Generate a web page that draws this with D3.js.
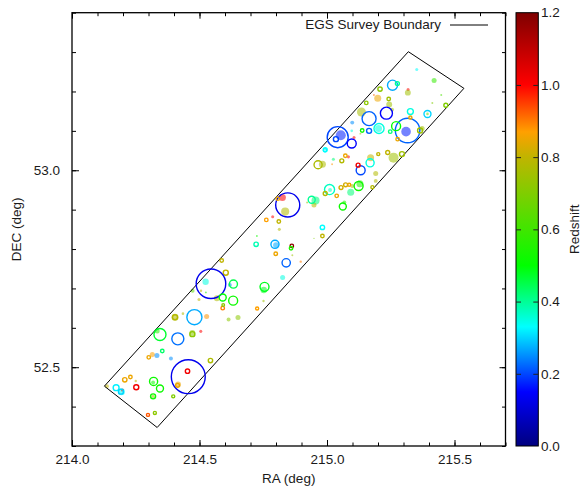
<!DOCTYPE html>
<html>
<head>
<meta charset="utf-8">
<script src="https://cdn.jsdelivr.net/npm/d3@7"></script>
<style>
  body { margin: 0; background: #fff; }
  text { font-family: "Liberation Sans", Arial, sans-serif; fill: #1a1a1a; font-size: 13.5px; }
</style>
</head>
<body>
<svg id="chart" width="582" height="487"></svg>
<script>
// EGS sources: position (deg), redshift, apparent radius (arcsec), marker kind (o = ring, f = disc)
const ra = [
  214.345, 214.334, 214.415, 214.472, 214.472, 214.505, 214.354, 214.301, 214.315, 214.333,
  214.388, 214.456, 214.453, 214.416, 214.414, 214.543, 214.207, 214.229, 214.250, 214.137,
  214.173, 214.194, 214.192, 214.198, 214.252, 214.320, 214.318, 214.345, 214.318, 214.318,
  214.397, 214.298, 214.325, 214.587, 214.603, 214.545, 214.524, 214.633, 214.619, 214.473,
  214.525, 214.506, 214.498, 214.591, 214.568, 214.632, 214.591, 214.593, 214.404, 214.404,
  214.435, 214.480, 214.528, 214.614, 214.651, 214.755, 214.752, 214.826, 214.726, 214.751,
  214.799, 214.840, 214.796, 214.800, 214.722, 214.862, 214.859, 214.864, 214.897, 214.982,
  214.725, 214.846, 214.825, 214.807, 214.836, 214.762, 214.787, 214.811, 214.813, 214.982,
  214.940, 214.955, 214.949, 214.922, 214.965, 214.982, 215.010, 215.012, 214.993, 215.038,
  215.055, 215.073, 215.087, 215.093, 215.124, 215.129, 215.099, 215.062, 215.068, 215.178,
  215.191, 215.191, 215.132, 215.122, 215.169, 215.171, 215.201, 215.261, 215.294, 215.072,
  215.084, 215.058, 215.020, 215.025, 214.992, 215.238, 214.949, 215.042, 215.054, 215.035,
  215.097, 215.316, 215.310, 215.271, 215.365, 215.373, 215.327, 215.277, 215.204, 215.202,
  215.165, 215.138, 215.248, 215.131, 215.165, 215.233, 215.135, 215.154, 215.199, 215.184,
  215.208, 215.257, 215.276, 215.242, 215.244, 215.255, 215.318, 215.317, 215.327, 215.394,
  215.394, 215.420, 215.448, 215.466, 215.413, 215.099, 215.097, 215.106, 214.993, 215.352
];
const dec = [
  52.583, 52.592, 52.572, 52.584, 52.587, 52.591, 52.541, 52.525, 52.532, 52.530,
  52.522, 52.476, 52.490, 52.456, 52.454, 52.517, 52.468, 52.475, 52.465, 52.452,
  52.448, 52.438, 52.438, 52.442, 52.449, 52.464, 52.461, 52.446, 52.426, 52.426,
  52.426, 52.379, 52.384, 52.771, 52.740, 52.712, 52.717, 52.711, 52.709, 52.694,
  52.690, 52.694, 52.672, 52.677, 52.675, 52.669, 52.650, 52.658, 52.627, 52.627,
  52.636, 52.627, 52.629, 52.621, 52.626, 52.704, 52.696, 52.728, 52.649, 52.668,
  52.788, 52.765, 52.812, 52.810, 52.812, 52.808, 52.802, 52.784, 52.768, 52.833,
  52.833, 52.912, 52.931, 52.928, 52.895, 52.874, 52.882, 52.870, 52.850, 52.855,
  52.925, 52.923, 52.912, 52.918, 53.014, 53.015, 52.951, 52.950, 52.941, 52.935,
  52.956, 52.963, 52.963, 52.944, 52.960, 52.966, 52.960, 52.908, 52.918, 52.957,
  52.973, 52.992, 53.000, 53.013, 53.019, 53.032, 53.041, 53.032, 53.041, 53.037,
  53.034, 53.024, 53.015, 53.028, 53.051, 53.045, 52.827, 53.084, 53.089, 53.079,
  53.068, 53.101, 53.098, 53.112, 53.101, 53.106, 53.134, 53.079, 53.106, 53.106,
  53.100, 53.101, 53.098, 53.093, 53.131, 53.145, 53.148, 53.171, 53.183, 53.191,
  53.206, 53.216, 53.220, 53.181, 53.167, 53.154, 53.205, 53.197, 53.149, 53.143,
  53.143, 53.228, 53.191, 53.165, 53.171, 53.121, 53.100, 53.083, 53.052, 53.256
];
const redshift = [
  0.47, 0.55, 0.23, 0.72, 0.72, 1.00, 0.43, 0.85, 0.87, 0.25,
  0.25, 0.13, 1.02, 0.85, 0.85, 0.77, 0.85, 0.85, 0.80, 0.80,
  0.32, 0.33, 0.30, 1.00, 1.02, 0.52, 0.52, 0.52, 0.52, 0.75,
  0.70, 0.93, 0.72, 0.80, 0.80, 0.13, 0.35, 0.45, 0.25, 0.65,
  0.55, 0.80, 0.80, 0.50, 0.78, 0.52, 0.90, 0.72, 0.78, 0.78,
  0.78, 0.27, 0.88, 0.72, 0.72, 0.48, 0.48, 0.35, 0.87, 0.75,
  0.85, 0.22, 0.27, 0.27, 0.38, 1.18, 0.55, 0.75, 0.90, 0.80,
  0.52, 0.13, 1.00, 0.85, 0.78, 0.87, 1.00, 0.80, 0.78, 0.33,
  0.40, 0.42, 0.78, 0.75, 0.77, 0.77, 0.37, 0.37, 0.78, 0.85,
  0.82, 0.82, 0.85, 0.42, 0.52, 0.55, 0.75, 0.52, 0.55, 0.78,
  0.78, 0.78, 0.20, 1.02, 0.35, 0.80, 0.80, 0.75, 0.75, 0.85,
  1.00, 0.78, 0.88, 0.42, 0.32, 0.80, 0.70, 0.20, 0.17, 0.20,
  0.15, 0.22, 0.17, 0.50, 0.75, 0.75, 0.85, 0.85, 0.35, 0.35,
  0.22, 0.52, 0.42, 0.78, 0.22, 0.15, 0.76, 0.72, 0.85, 0.92,
  0.72, 0.27, 0.40, 0.75, 0.75, 0.75, 1.00, 0.75, 0.35, 0.30,
  0.65, 0.58, 0.62, 0.70, 0.70, 0.25, 0.35, 1.00, 0.33, 0.33
];
const radiusArcsec = [
  55, 23, 55, 23, 27, 14, 16, 16, 23, 23,
  18, 155, 20, 27, 18, 20, 20, 16, 11, 18,
  27, 32, 23, 14, 23, 37, 18, 32, 23, 14,
  14, 14, 14, 16, 23, 135, 29, 37, 18, 18,
  9, 11, 14, 32, 27, 41, 16, 12, 32, 23,
  12, 69, 23, 18, 23, 41, 29, 23, 14, 11,
  16, 38, 37, 27, 20, 16, 16, 9, 11, 16,
  9, 110, 32, 16, 37, 16, 14, 16, 14, 20,
  32, 37, 23, 9, 37, 32, 46, 18, 18, 16,
  18, 18, 14, 32, 41, 32, 18, 32, 18, 14,
  18, 23, 41, 18, 37, 32, 14, 46, 23, 16,
  14, 18, 9, 14, 14, 18, 6, 96, 46, 23,
  41, 112, 44, 41, 23, 23, 14, 16, 46, 32,
  23, 16, 16, 9, 64, 55, 41, 16, 32, 9,
  20, 46, 18, 16, 27, 18, 14, 27, 27, 32,
  12, 23, 9, 18, 9, 18, 12, 14, 18, 14
];
const kind = [
  "o","f","o","o","f","f","o","o","f","f",
  "f","o","o","f","o","o","o","o","f","f",
  "o","f","o","f","o","o","f","o","o","f",
  "o","o","o","o","o","o","f","o","f","f",
  "f","f","f","o","f","o","o","o","f","o",
  "f","o","f","f","f","o","f","f","o","f",
  "o","o","o","f","o","o","o","f","f","o",
  "f","o","f","o","f","o","f","o","f","o",
  "o","f","f","f","o","f","o","f","o","o",
  "o","o","o","f","o","f","f","o","f","o",
  "f","f","o","o","o","f","o","f","o","o",
  "f","o","f","f","o","o","f","o","f","o",
  "o","o","f","o","o","f","o","o","o","f",
  "o","o","o","f","o","o","f","o","f","f",
  "o","o","o","o","f","f","f","f","o","o",
  "f","f","f","o","f","f","f","f","o","f"
];

// EGS survey footprint corners (RA, Dec)
const boundaryRA  = [215.319, 215.537, 214.334, 214.127];
const boundaryDec = [53.301, 53.208, 52.347, 52.452];

// Axis ticks
const xMajorTicks = [214.0, 214.5, 215.0, 215.5];
const yMajorTicks = [52.5, 53.0];
const zTicks = [0.0, 0.2, 0.4, 0.6, 0.8, 1.0, 1.2];

// Redshift palette
const zStops  = [0.0, 0.15, 0.33, 0.5, 0.8, 0.87, 1.0, 1.2];
const zColors = ["#00007f", "#0000ff", "#00ffff", "#00ff00", "#c0b400", "#ffa000", "#ff0000", "#7f0000"];

const svg = d3.select("#chart");
const P = { left: 72, right: 505.5, top: 12.7, bottom: 446 };

const x = d3.scaleLinear().domain([214.0, 215.7]).range([P.left, P.right]);
const y = d3.scaleLinear().domain([52.3, 53.4]).range([P.bottom, P.top]);
const color = d3.scaleLinear().domain(zStops).range(zColors).clamp(true);
// one degree on the sky in pixels (declination axis)
const rScale = d3.scaleLinear().domain([0, 3600]).range([0, y(52.3) - y(53.3)]);

const sources = ra.map((r, i) => ({
  ra: r, dec: dec[i], z: redshift[i], rad: radiusArcsec[i], kind: kind[i]
}));

// clip to plot area
svg.append("clipPath").attr("id", "plotClip")
  .append("rect").attr("x", P.left).attr("y", P.top)
  .attr("width", P.right - P.left).attr("height", P.bottom - P.top);

const plot = svg.append("g").attr("clip-path", "url(#plotClip)");

// filled discs first, rings on top
plot.append("g").selectAll("circle")
  .data(sources.filter(d => d.kind === "f"))
  .join("circle")
  .attr("cx", d => x(d.ra)).attr("cy", d => y(d.dec))
  .attr("r", d => rScale(d.rad))
  .attr("fill", d => color(d.z))
  .attr("fill-opacity", 0.55);

// survey footprint
const corners = boundaryRA.map((r, i) => [x(r), y(boundaryDec[i])]);
plot.append("path")
  .attr("d", d3.line()(corners) + "Z")
  .attr("fill", "none").attr("stroke", "#000").attr("stroke-width", 1);

plot.append("g").selectAll("circle")
  .data(sources.filter(d => d.kind === "o"))
  .join("circle")
  .attr("cx", d => x(d.ra)).attr("cy", d => y(d.dec))
  .attr("r", d => rScale(d.rad))
  .attr("fill", "none")
  .attr("stroke", d => color(d.z))
  .attr("stroke-width", 1.4);

// axes with inward ticks on all four sides
function styleAxis(g) {
  g.select(".domain").remove();
  g.selectAll(".tick line").attr("stroke", "#000").attr("stroke-width", 1);
  g.selectAll("text").attr("font-size", null).attr("font-family", null).attr("fill", null);
}
const xMinor = x.ticks(17);
const yMinor = y.ticks(11);

svg.append("g").attr("transform", `translate(0,${P.bottom})`)
  .call(d3.axisBottom(x).tickValues(xMinor).tickSize(-3.5).tickFormat("")).call(styleAxis);
svg.append("g").attr("transform", `translate(0,${P.bottom})`)
  .call(d3.axisBottom(x).tickValues(xMajorTicks).tickSize(-6).tickPadding(8).tickFormat(d3.format(".1f")))
  .call(styleAxis);
svg.append("g").attr("transform", `translate(0,${P.top})`)
  .call(d3.axisTop(x).tickValues(xMinor).tickSize(-3.5).tickFormat("")).call(styleAxis);
svg.append("g").attr("transform", `translate(0,${P.top})`)
  .call(d3.axisTop(x).tickValues(xMajorTicks).tickSize(-6).tickFormat("")).call(styleAxis);

svg.append("g").attr("transform", `translate(${P.left},0)`)
  .call(d3.axisLeft(y).tickValues(yMinor).tickSize(-4).tickFormat("")).call(styleAxis);
svg.append("g").attr("transform", `translate(${P.left},0)`)
  .call(d3.axisLeft(y).tickValues(yMajorTicks).tickSize(-7).tickPadding(12).tickFormat(d3.format(".1f")))
  .call(styleAxis);
svg.append("g").attr("transform", `translate(${P.right},0)`)
  .call(d3.axisRight(y).tickValues(yMinor).tickSize(-3.5).tickFormat("")).call(styleAxis);
svg.append("g").attr("transform", `translate(${P.right},0)`)
  .call(d3.axisRight(y).tickValues(yMajorTicks).tickSize(-6).tickFormat("")).call(styleAxis);

// frame
svg.append("rect")
  .attr("x", P.left).attr("y", P.top)
  .attr("width", P.right - P.left).attr("height", P.bottom - P.top)
  .attr("fill", "none").attr("stroke", "#000").attr("stroke-width", 1.3);

// axis titles
svg.append("text").attr("x", (P.left + P.right) / 2).attr("y", 483)
  .attr("text-anchor", "middle").text("RA (deg)");
svg.append("text").attr("transform", `translate(21,${(P.top + P.bottom) / 2}) rotate(-90)`)
  .attr("text-anchor", "middle").text("DEC (deg)");

// legend
svg.append("text").attr("x", 441).attr("y", 29).attr("text-anchor", "end").text("EGS Survey Boundary");
svg.append("line").attr("x1", 450).attr("x2", 488).attr("y1", 25).attr("y2", 25)
  .attr("stroke", "#000").attr("stroke-width", 1);

// colour bar
const cb = { left: 516, right: 538.3 };
const zScale = d3.scaleLinear().domain([0, 1.2]).range([P.bottom, P.top]);
const grad = svg.append("defs").append("linearGradient")
  .attr("id", "zGrad").attr("x1", 0).attr("y1", 1).attr("x2", 0).attr("y2", 0);
grad.selectAll("stop").data(zStops).join("stop")
  .attr("offset", d => d / 1.2)
  .attr("stop-color", d => color(d));
svg.append("rect")
  .attr("x", cb.left).attr("y", P.top)
  .attr("width", cb.right - cb.left).attr("height", P.bottom - P.top)
  .attr("fill", "url(#zGrad)").attr("stroke", "#000").attr("stroke-width", 1);

const cbInner = zTicks.filter(t => t > 0 && t < 1.2);
svg.append("g").attr("transform", `translate(${cb.left},0)`)
  .call(d3.axisRight(zScale).tickValues(cbInner).tickSize(5).tickFormat(""))
  .call(g => { g.select(".domain").remove(); g.selectAll(".tick line").attr("stroke", "#222"); });
svg.append("g").attr("transform", `translate(${cb.right},0)`)
  .call(d3.axisLeft(zScale).tickValues(cbInner).tickSize(5).tickFormat(""))
  .call(g => { g.select(".domain").remove(); g.selectAll(".tick line").attr("stroke", "#222"); });

svg.append("g").selectAll("text").data(zTicks).join("text")
  .attr("x", 541).attr("y", d => zScale(d)).attr("dy", "0.35em")
  .text(d3.format(".1f"));

svg.append("text").attr("transform", `translate(579,${(P.top + P.bottom) / 2}) rotate(-90)`)
  .attr("text-anchor", "middle").text("Redshift");
</script>
</body>
</html>
